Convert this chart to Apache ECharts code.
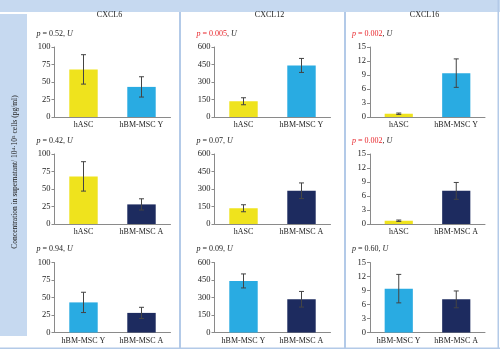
<!DOCTYPE html>
<html>
<head>
<meta charset="utf-8">
<script src="https://cdn.jsdelivr.net/npm/echarts@6/dist/echarts.min.js"></script>
<style>
  html, body { margin: 0; padding: 0; background: #fff; }
  #chart { width: 500px; height: 351px; }
</style>
</head>
<body>
<div id="chart"></div>
<script>
// data
const groups = ['hASC', 'hBM-MSC Y', 'hBM-MSC A']
const chemokines = ['CXCL6', 'CXCL12', 'CXCL16']
const cxcl6Mean = [68, 43, 28]
const cxcl6Err = [21, 14.5, 8]
const cxcl12Mean = [135, 442, 285]
const cxcl12Err = [30, 60, 67]
const cxcl16Mean = [0.7, 9.4, 7.1]
const cxcl16Err = [0.15, 3.05, 1.8]
const yMax = [100, 600, 15]
const yStep = [25, 150, 3]
// each row compares two groups
const rowPairs = [[0, 1], [0, 2], [1, 2]]
const pValues = [
  ['0.52', '0.005', '0.002'],
  ['0.42', '0.07', '0.002'],
  ['0.94', '0.09', '0.60']
]

const means = [cxcl6Mean, cxcl12Mean, cxcl16Mean]
const errs = [cxcl6Err, cxcl12Err, cxcl16Err]
const groupColors = ['#efe31d', '#29abe2', '#1d2b5f']

const serif = 'Liberation Serif, Times New Roman, serif'
const colLeft = [54.5, 214.5, 370]
const colWidth = [116, 116, 115]
const rowTop = [47, 154, 262.5]
const plotH = 70
const blueFill = '#c6d9f0'
const blueLine = '#b3cae8'

const chart = echarts.init(document.getElementById('chart'))

const grids = []
const xAxes = []
const yAxes = []
const series = []
const graphics = [
  { type: 'rect', shape: { x: 0, y: 0, width: 500, height: 12 }, style: { fill: blueFill } },
  { type: 'rect', shape: { x: 0, y: 14, width: 27, height: 322 }, style: { fill: blueFill } },
  { type: 'rect', shape: { x: 179, y: 12, width: 2, height: 337 }, style: { fill: blueLine } },
  { type: 'rect', shape: { x: 344, y: 12, width: 2, height: 337 }, style: { fill: blueLine } },
  { type: 'rect', shape: { x: 0, y: 347.5, width: 500, height: 1.5 }, style: { fill: blueLine } },
  { type: 'rect', shape: { x: 497.5, y: 0, width: 1.5, height: 349 }, style: { fill: blueLine } },
  {
    type: 'text',
    x: 15,
    y: 172,
    rotation: Math.PI / 2,
    style: {
      text: 'Concentration in supernatant/ 10\u2074\u00b710\u2075 cells (pg/ml)',
      fontFamily: serif,
      fontSize: 7.5,
      fill: '#222',
      align: 'center',
      verticalAlign: 'middle'
    }
  }
]

chemokines.forEach(function (name, c) {
  graphics.push({
    type: 'text',
    x: colLeft[c] + colWidth[c] / 2 - 3,
    y: 15,
    style: {
      text: name,
      fontFamily: serif,
      fontSize: 8,
      fill: '#222',
      align: 'center',
      verticalAlign: 'middle'
    }
  })
})

rowPairs.forEach(function (pair, r) {
  chemokines.forEach(function (name, c) {
    const idx = grids.length
    const cats = pair.map(function (g) { return groups[g] })
    grids.push({ left: colLeft[c], top: rowTop[r], width: colWidth[c], height: plotH })
    xAxes.push({
      type: 'category',
      gridIndex: idx,
      data: cats,
      axisLine: { lineStyle: { color: '#8a8a8a', width: 1 } },
      axisTick: { show: false },
      axisLabel: { interval: 0, margin: 4, fontFamily: serif, fontSize: 8, color: '#222' }
    })
    yAxes.push({
      type: 'value',
      gridIndex: idx,
      min: 0,
      max: yMax[c],
      interval: yStep[c],
      splitLine: { show: false },
      axisLine: { show: true, lineStyle: { color: '#8a8a8a', width: 1 } },
      axisTick: { show: true, length: 3, lineStyle: { color: '#8a8a8a' } },
      axisLabel: { margin: 4, fontFamily: serif, fontSize: 8.5, color: '#222' }
    })
    series.push({
      type: 'bar',
      xAxisIndex: idx,
      yAxisIndex: idx,
      barWidth: '49%',
      data: pair.map(function (g) {
        return { value: means[c][g], itemStyle: { color: groupColors[g] } }
      })
    })
    series.push({
      type: 'custom',
      xAxisIndex: idx,
      yAxisIndex: idx,
      z: 5,
      data: pair.map(function (g, i) { return [i, means[c][g], errs[c][g]] }),
      renderItem: function (params, api) {
        const i = api.value(0)
        const m = api.value(1)
        const e = api.value(2)
        const hi = api.coord([i, m + e])
        const lo = api.coord([i, m - e])
        const cap = 2.5
        const st = { stroke: '#444', lineWidth: 1 }
        return {
          type: 'group',
          children: [
            { type: 'line', shape: { x1: hi[0], y1: hi[1], x2: lo[0], y2: lo[1] }, style: st },
            { type: 'line', shape: { x1: hi[0] - cap, y1: hi[1], x2: hi[0] + cap, y2: hi[1] }, style: st },
            { type: 'line', shape: { x1: lo[0] - cap, y1: lo[1], x2: lo[0] + cap, y2: lo[1] }, style: st }
          ]
        }
      }
    })
    // p value label
    const p = pValues[r][c]
    const sig = parseFloat(p) < 0.05
    graphics.push({
      type: 'text',
      x: colLeft[c] - 18,
      y: rowTop[r] - 13.5,
      style: {
        text: '{pi|p}{pv| = ' + p + '}{n|, }{u|U}',
        fontFamily: serif,
        fontSize: 8,
        fill: '#222',
        verticalAlign: 'middle',
        rich: {
          pi: { fontFamily: serif, fontSize: 8, fontStyle: 'italic', fill: sig ? '#e8262b' : '#222' },
          pv: { fontFamily: serif, fontSize: 8, fill: sig ? '#e8262b' : '#222' },
          n: { fontFamily: serif, fontSize: 8, fill: '#222' },
          u: { fontFamily: serif, fontSize: 8, fontStyle: 'italic', fill: '#222' }
        }
      }
    })
  })
})

const option = {
  backgroundColor: '#fff',
  animation: false,
  grid: grids,
  xAxis: xAxes,
  yAxis: yAxes,
  series: series,
  graphic: graphics
}
chart.setOption(option)
window.addEventListener('resize', function () {
  chart.resize()
})
</script>
</body>
</html>
